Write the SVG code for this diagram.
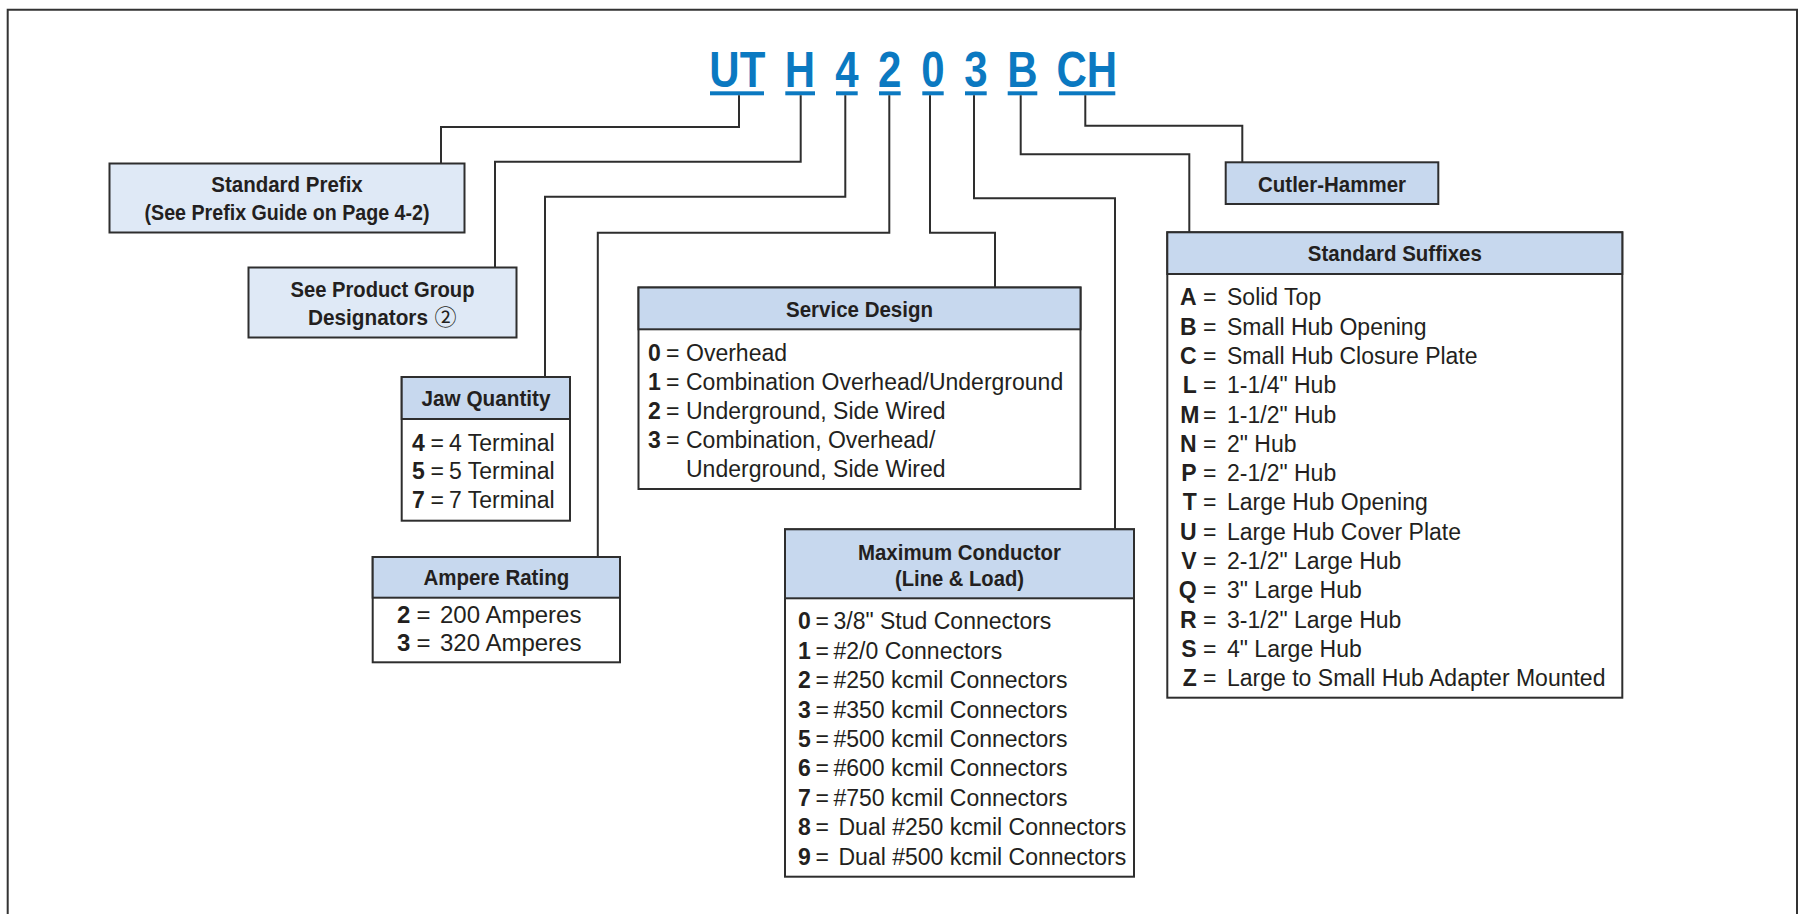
<svg xmlns="http://www.w3.org/2000/svg" width="1806" height="914" viewBox="0 0 1806 914">
<style>
text { font-family: "Liberation Sans", Arial, sans-serif; fill: #231f20; }
.code { font-weight: bold; font-size: 50px; fill: #0b79c1; text-anchor: middle; }
.ul { fill: #0b79c1; }
.box { fill: #ffffff; stroke: #2e2e2e; stroke-width: 2; }
.lbl { fill: #dfe9f6; stroke: #2e2e2e; stroke-width: 2; }
.hdr { fill: #c7d8ee; stroke: #2e2e2e; stroke-width: 2; }
.h { font-weight: bold; font-size: 22.5px; text-anchor: middle; }
.hs { font-weight: bold; font-size: 22.5px; }
.t { font-size: 23px; }
.ta { font-size: 24px; }
.b { font-weight: bold; }
.end { text-anchor: end; }
.circ { font-family: "Noto Sans CJK JP", "DejaVu Sans", sans-serif; font-weight: normal; font-size: 22px; text-anchor: middle; }
#connectors path { fill: none; stroke: #2e2e2e; stroke-width: 2; }
#frame { fill: none; stroke: #333333; stroke-width: 2; }
</style>

<path id="frame" d="M7.7,914 V9.7 H1797 V914"/>

<g id="code">
  <text class="code" transform="translate(737.3,87) scale(0.84,1)">UT</text>
  <text class="code" transform="translate(800,87) scale(0.84,1)">H</text>
  <text class="code" transform="translate(847,87) scale(0.84,1)">4</text>
  <text class="code" transform="translate(889.7,87) scale(0.84,1)">2</text>
  <text class="code" transform="translate(933,87) scale(0.84,1)">0</text>
  <text class="code" transform="translate(975.8,87) scale(0.84,1)">3</text>
  <text class="code" transform="translate(1022.5,87) scale(0.84,1)">B</text>
  <text class="code" transform="translate(1086.7,87) scale(0.84,1)">CH</text>
  <rect class="ul" x="710" y="91.3" width="54" height="4"/>
  <rect class="ul" x="785.3" y="91.3" width="29.7" height="4"/>
  <rect class="ul" x="836" y="91.3" width="21.7" height="4"/>
  <rect class="ul" x="879" y="91.3" width="21.7" height="4"/>
  <rect class="ul" x="922.3" y="91.3" width="21.4" height="4"/>
  <rect class="ul" x="965" y="91.3" width="21.7" height="4"/>
  <rect class="ul" x="1007.7" y="91.3" width="29.6" height="4"/>
  <rect class="ul" x="1059" y="91.3" width="56.3" height="4"/>
</g>

<g id="connectors">
  <path d="M739,95.3 V127 H441 V163.5"/>
  <path d="M800.7,95.3 V161.7 H495 V267.5"/>
  <path d="M845.3,95.3 V196.7 H545 V377"/>
  <path d="M889.3,95.3 V232.7 H597.8 V557"/>
  <path d="M930,95.3 V232.7 H995 V287.5"/>
  <path d="M974,95.3 V198.3 H1115 V529.3"/>
  <path d="M1020.7,95.3 V154.3 H1189.3 V232.3"/>
  <path d="M1085.3,95.3 V125.7 H1242.3 V162.3"/>
</g>

<g id="standard-prefix">
  <rect class="lbl" x="109.5" y="163.5" width="355" height="69"/>
  <text class="h" x="287" y="192" textLength="151.5" lengthAdjust="spacingAndGlyphs">Standard Prefix</text>
  <text class="h" x="287" y="220" textLength="285" lengthAdjust="spacingAndGlyphs">(See Prefix Guide on Page 4-2)</text>
</g>

<g id="product-group">
  <rect class="lbl" x="248.5" y="267.5" width="268" height="70"/>
  <text class="h" x="382.5" y="297" textLength="184" lengthAdjust="spacingAndGlyphs">See Product Group</text>
  <text class="hs" x="308" y="325" textLength="120" lengthAdjust="spacingAndGlyphs">Designators</text>
  <text class="circ" x="445.5" y="325">②</text>
</g>

<g id="jaw-quantity">
  <rect class="box" x="401.7" y="377" width="168.3" height="143.7"/>
  <rect class="hdr" x="401.7" y="377" width="168.3" height="42"/>
  <text class="h" x="486" y="406" textLength="129" lengthAdjust="spacingAndGlyphs">Jaw Quantity</text>
  <text class="t" y="450.7"><tspan class="b" x="412">4</tspan><tspan x="430.5">=</tspan><tspan x="449">4 Terminal</tspan></text>
  <text class="t" y="479.2"><tspan class="b" x="412">5</tspan><tspan x="430.5">=</tspan><tspan x="449">5 Terminal</tspan></text>
  <text class="t" y="507.7"><tspan class="b" x="412">7</tspan><tspan x="430.5">=</tspan><tspan x="449">7 Terminal</tspan></text>
</g>

<g id="ampere-rating">
  <rect class="box" x="372.7" y="557" width="247.3" height="105.3"/>
  <rect class="hdr" x="372.7" y="557" width="247.3" height="40.7"/>
  <text class="h" x="496.3" y="585" textLength="145.8" lengthAdjust="spacingAndGlyphs">Ampere Rating</text>
  <text class="ta" y="623.3"><tspan class="b" x="397">2</tspan><tspan x="416.5">=</tspan><tspan x="440">200 Amperes</tspan></text>
  <text class="ta" y="650.7"><tspan class="b" x="397">3</tspan><tspan x="416.5">=</tspan><tspan x="440">320 Amperes</tspan></text>
</g>

<g id="service-design">
  <rect class="box" x="638.5" y="287.5" width="442" height="201.5"/>
  <rect class="hdr" x="638.5" y="287.5" width="442" height="41.8"/>
  <text class="h" x="859.5" y="317" textLength="147" lengthAdjust="spacingAndGlyphs">Service Design</text>
  <text class="t" y="360.6"><tspan class="b" x="648">0</tspan><tspan x="666">=</tspan><tspan x="686">Overhead</tspan></text>
  <text class="t" y="389.7"><tspan class="b" x="648">1</tspan><tspan x="666">=</tspan><tspan x="686">Combination Overhead/Underground</tspan></text>
  <text class="t" y="418.8"><tspan class="b" x="648">2</tspan><tspan x="666">=</tspan><tspan x="686">Underground, Side Wired</tspan></text>
  <text class="t" y="447.9"><tspan class="b" x="648">3</tspan><tspan x="666">=</tspan><tspan x="686">Combination, Overhead/</tspan></text>
  <text class="t" x="686" y="477">Underground, Side Wired</text>
</g>

<g id="maximum-conductor">
  <rect class="box" x="785" y="529.3" width="349" height="347.4"/>
  <rect class="hdr" x="785" y="529.3" width="349" height="69"/>
  <text class="h" x="959.5" y="559.5" textLength="203" lengthAdjust="spacingAndGlyphs">Maximum Conductor</text>
  <text class="h" x="959.5" y="586" textLength="129" lengthAdjust="spacingAndGlyphs">(Line &amp; Load)</text>
  <text class="t" y="629.3"><tspan class="b" x="798">0</tspan><tspan x="815.5">=</tspan><tspan x="833.5">3/8" Stud Connectors</tspan></text>
  <text class="t" y="658.7"><tspan class="b" x="798">1</tspan><tspan x="815.5">=</tspan><tspan x="833.5">#2/0 Connectors</tspan></text>
  <text class="t" y="688.1"><tspan class="b" x="798">2</tspan><tspan x="815.5">=</tspan><tspan x="833.5">#250 kcmil Connectors</tspan></text>
  <text class="t" y="717.5"><tspan class="b" x="798">3</tspan><tspan x="815.5">=</tspan><tspan x="833.5">#350 kcmil Connectors</tspan></text>
  <text class="t" y="746.9"><tspan class="b" x="798">5</tspan><tspan x="815.5">=</tspan><tspan x="833.5">#500 kcmil Connectors</tspan></text>
  <text class="t" y="776.3"><tspan class="b" x="798">6</tspan><tspan x="815.5">=</tspan><tspan x="833.5">#600 kcmil Connectors</tspan></text>
  <text class="t" y="805.7"><tspan class="b" x="798">7</tspan><tspan x="815.5">=</tspan><tspan x="833.5">#750 kcmil Connectors</tspan></text>
  <text class="t" y="835.1"><tspan class="b" x="798">8</tspan><tspan x="815.5">=</tspan><tspan x="838.5">Dual #250 kcmil Connectors</tspan></text>
  <text class="t" y="864.5"><tspan class="b" x="798">9</tspan><tspan x="815.5">=</tspan><tspan x="838.5">Dual #500 kcmil Connectors</tspan></text>
</g>

<g id="cutler-hammer">
  <rect class="hdr" x="1225.7" y="162.3" width="212.6" height="41.7"/>
  <text class="h" x="1332" y="192" textLength="148" lengthAdjust="spacingAndGlyphs">Cutler-Hammer</text>
</g>

<g id="standard-suffixes">
  <rect class="box" x="1167.3" y="232.3" width="455" height="465.4"/>
  <rect class="hdr" x="1167.3" y="232.3" width="455" height="41.7"/>
  <text class="h" x="1394.8" y="261" textLength="174" lengthAdjust="spacingAndGlyphs">Standard Suffixes</text>
  <text class="t" y="305.3"><tspan class="b end" x="1196.7">A</tspan><tspan x="1203">=</tspan><tspan x="1227">Solid Top</tspan></text>
  <text class="t" y="334.6"><tspan class="b end" x="1196.7">B</tspan><tspan x="1203">=</tspan><tspan x="1227">Small Hub Opening</tspan></text>
  <text class="t" y="363.9"><tspan class="b end" x="1196.7">C</tspan><tspan x="1203">=</tspan><tspan x="1227">Small Hub Closure Plate</tspan></text>
  <text class="t" y="393.2"><tspan class="b end" x="1196.7">L</tspan><tspan x="1203">=</tspan><tspan x="1227">1-1/4" Hub</tspan></text>
  <text class="t" y="422.5"><tspan class="b end" x="1199.5">M</tspan><tspan x="1203">=</tspan><tspan x="1227">1-1/2" Hub</tspan></text>
  <text class="t" y="451.8"><tspan class="b end" x="1196.7">N</tspan><tspan x="1203">=</tspan><tspan x="1227">2" Hub</tspan></text>
  <text class="t" y="481.1"><tspan class="b end" x="1196.7">P</tspan><tspan x="1203">=</tspan><tspan x="1227">2-1/2" Hub</tspan></text>
  <text class="t" y="510.4"><tspan class="b end" x="1196.7">T</tspan><tspan x="1203">=</tspan><tspan x="1227">Large Hub Opening</tspan></text>
  <text class="t" y="539.7"><tspan class="b end" x="1196.7">U</tspan><tspan x="1203">=</tspan><tspan x="1227">Large Hub Cover Plate</tspan></text>
  <text class="t" y="569"><tspan class="b end" x="1196.7">V</tspan><tspan x="1203">=</tspan><tspan x="1227">2-1/2" Large Hub</tspan></text>
  <text class="t" y="598.3"><tspan class="b end" x="1196.7">Q</tspan><tspan x="1203">=</tspan><tspan x="1227">3" Large Hub</tspan></text>
  <text class="t" y="627.6"><tspan class="b end" x="1196.7">R</tspan><tspan x="1203">=</tspan><tspan x="1227">3-1/2" Large Hub</tspan></text>
  <text class="t" y="656.9"><tspan class="b end" x="1196.7">S</tspan><tspan x="1203">=</tspan><tspan x="1227">4" Large Hub</tspan></text>
  <text class="t" y="686.2"><tspan class="b end" x="1196.7">Z</tspan><tspan x="1203">=</tspan><tspan x="1227">Large to Small Hub Adapter Mounted</tspan></text>
</g>
</svg>
